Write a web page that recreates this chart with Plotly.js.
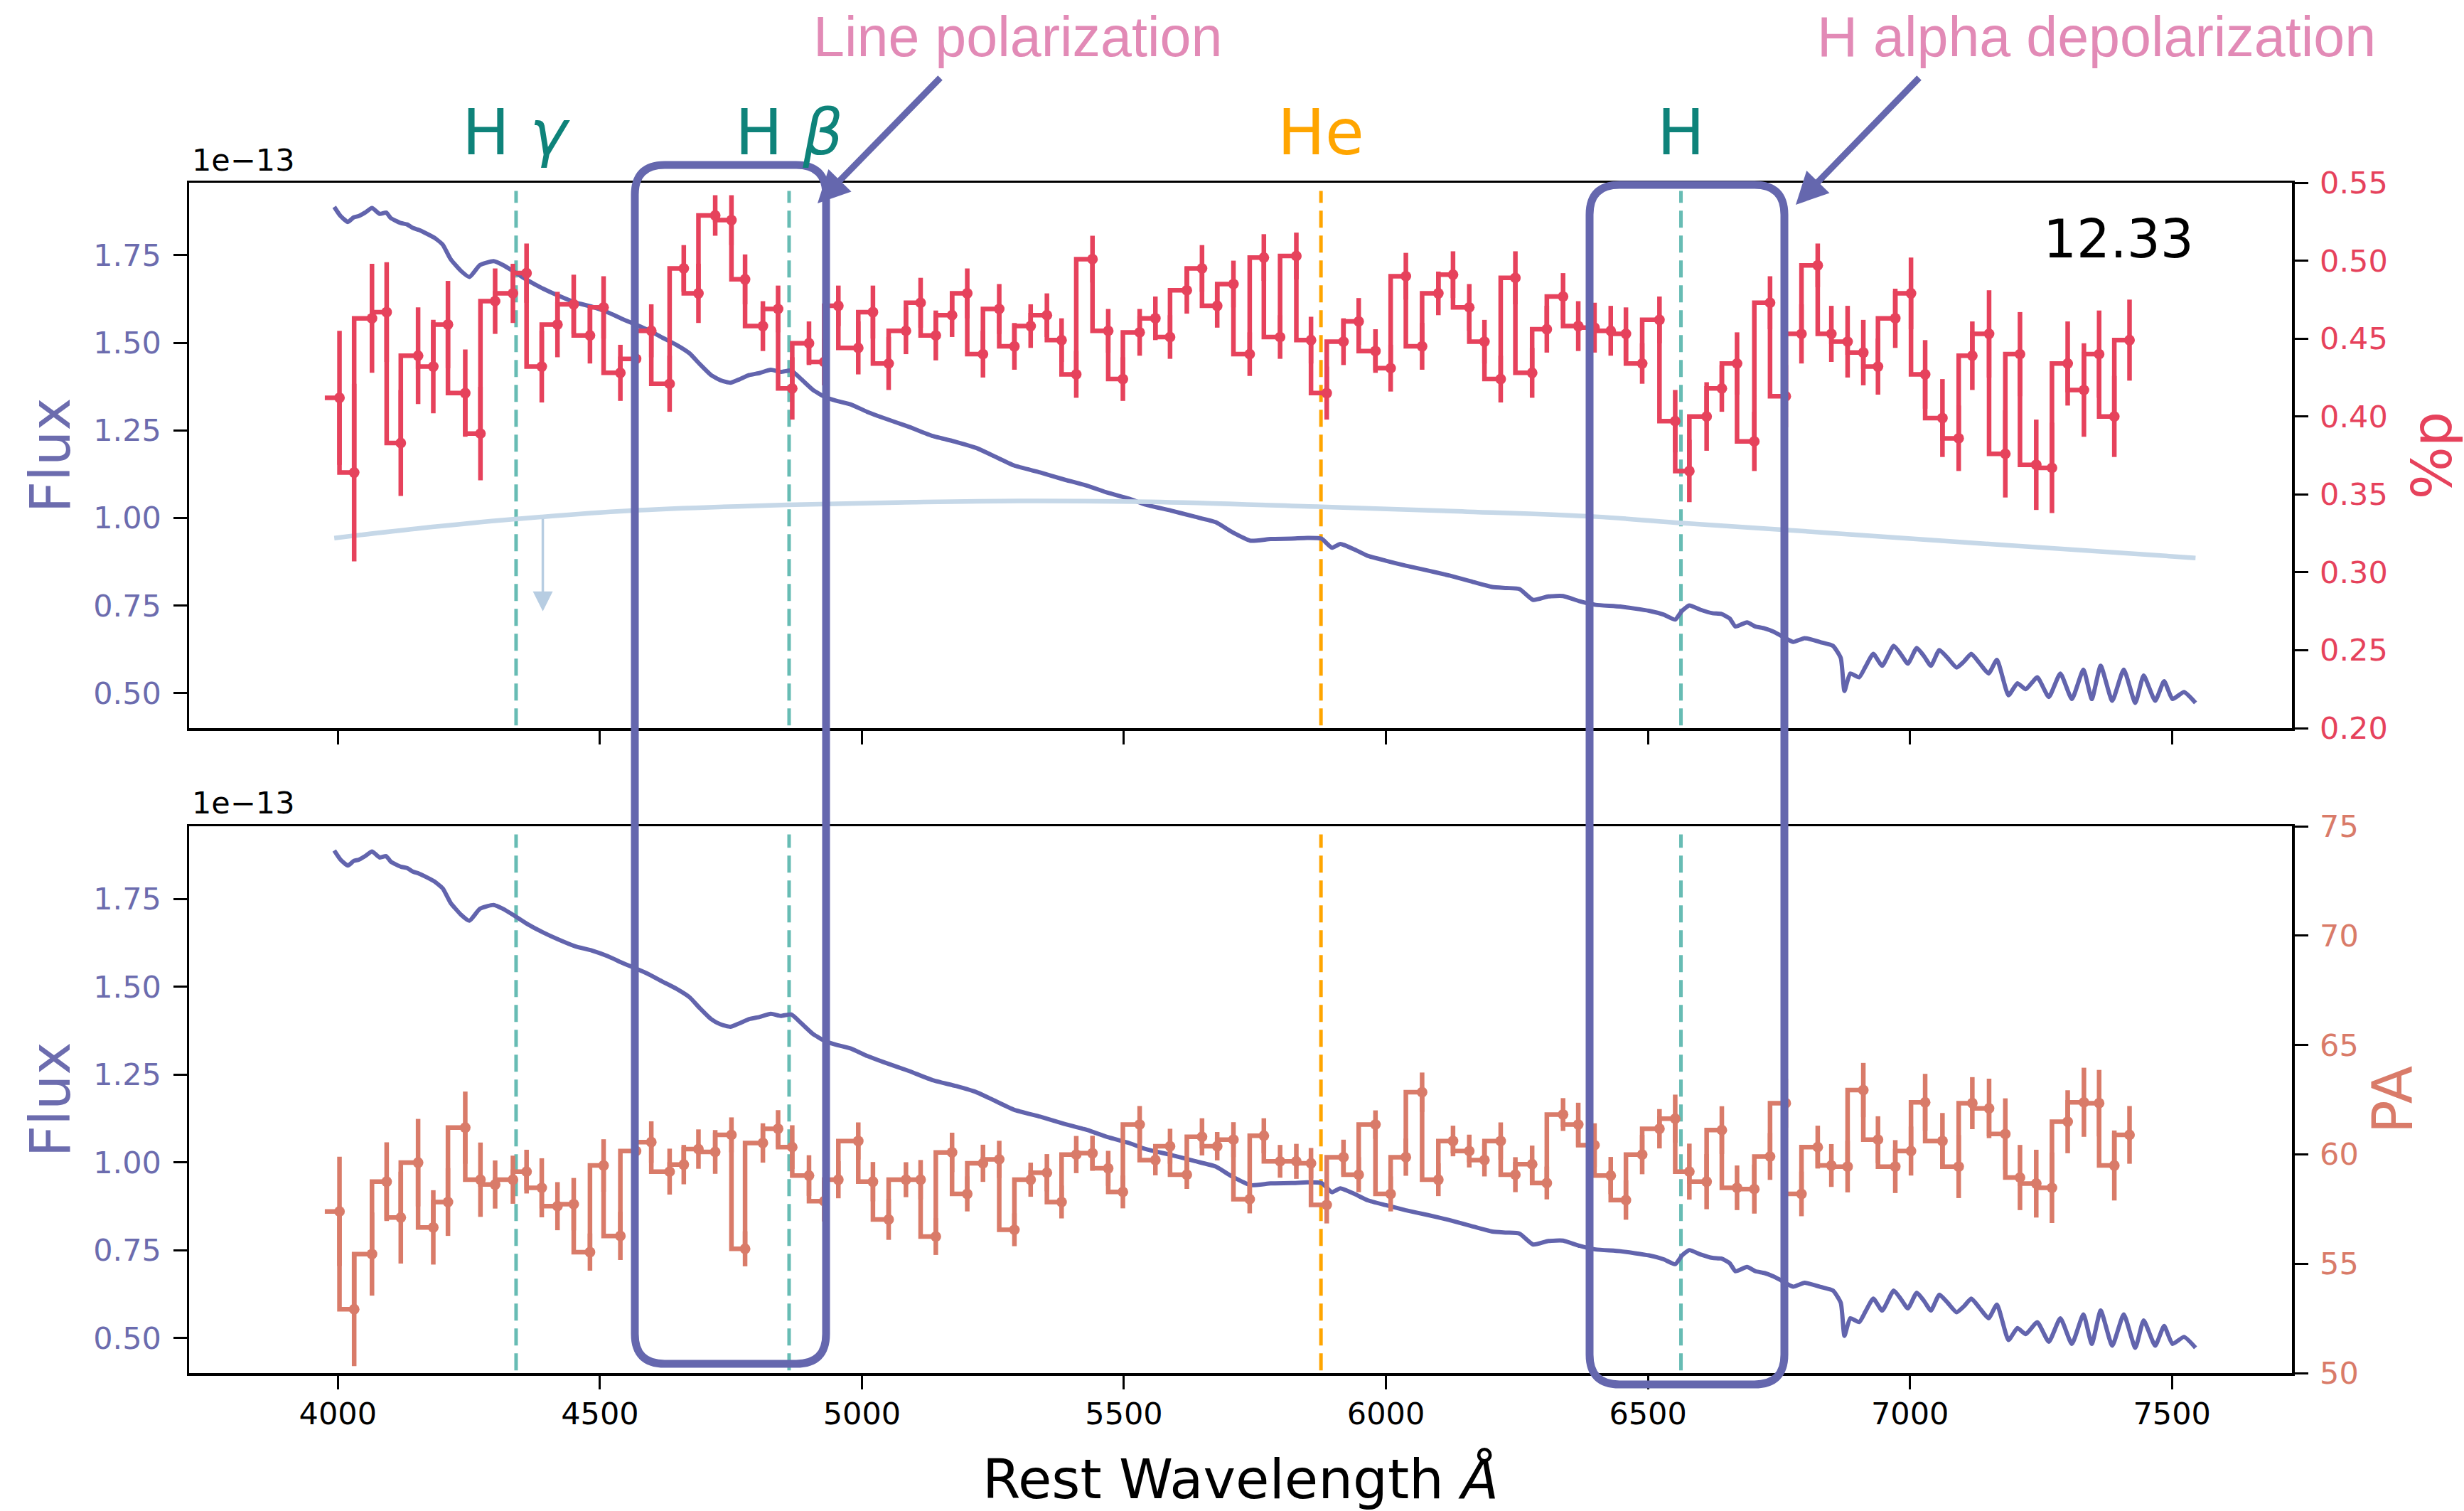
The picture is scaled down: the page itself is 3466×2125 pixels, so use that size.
<!DOCTYPE html>
<html>
<head>
<meta charset="utf-8">
<script src="https://cdn.plot.ly/plotly-3.0.1.min.js"></script>
<style>html,body{margin:0;padding:0;background:#fff;}</style>
</head>
<body>
<div id="chart" style="width:3466px;height:2125px;"></div>
<script>
// ---------------- DATA ----------------
// Flux spectrum (units of 1e-13)
const fluxWave = [3993, 4005, 4019, 4030, 4040, 4052, 4065, 4080, 4092, 4101, 4120, 4132, 4143, 4155, 4165, 4184, 4200, 4215, 4235, 4251, 4271, 4297, 4315, 4334, 4360, 4391, 4420, 4453, 4485, 4515, 4540, 4557, 4590, 4619, 4645, 4671, 4690, 4712, 4730, 4749, 4765, 4785, 4805, 4826, 4845, 4865, 4885, 4907, 4930, 4950, 4979, 5010, 5042, 5090, 5135, 5180, 5218, 5250, 5290, 5340, 5383, 5430, 5469, 5510, 5541, 5590, 5634, 5675, 5706, 5742, 5780, 5820, 5850, 5877, 5897, 5913, 5940, 5965, 6000, 6037, 6080, 6120, 6160, 6203, 6230, 6255, 6281, 6310, 6338, 6370, 6400, 6447, 6502, 6530, 6552, 6565, 6579, 6600, 6623, 6640, 6656, 6667, 6689, 6705, 6722, 6740, 6755, 6777, 6799, 6830, 6853, 6868, 6875, 6886, 6903, 6915, 6930, 6947, 6969, 6983, 6996, 7013, 7027, 7040, 7056, 7072, 7089, 7103, 7117, 7133, 7150, 7166, 7188, 7205, 7221, 7243, 7265, 7287, 7309, 7331, 7347, 7364, 7386, 7408, 7430, 7446, 7468, 7485, 7501, 7523, 7545];
const fluxVal  = [1.888, 1.862, 1.845, 1.858, 1.862, 1.872, 1.885, 1.868, 1.872, 1.856, 1.842, 1.838, 1.828, 1.822, 1.815, 1.800, 1.780, 1.739, 1.705, 1.688, 1.722, 1.733, 1.722, 1.705, 1.680, 1.655, 1.635, 1.615, 1.603, 1.587, 1.570, 1.559, 1.538, 1.515, 1.495, 1.470, 1.440, 1.408, 1.393, 1.386, 1.395, 1.408, 1.414, 1.423, 1.417, 1.421, 1.395, 1.365, 1.345, 1.335, 1.324, 1.303, 1.285, 1.260, 1.234, 1.217, 1.200, 1.178, 1.150, 1.130, 1.111, 1.092, 1.072, 1.055, 1.038, 1.021, 1.004, 0.988, 0.960, 0.935, 0.940, 0.941, 0.943, 0.941, 0.915, 0.926, 0.910, 0.892, 0.878, 0.864, 0.850, 0.836, 0.820, 0.803, 0.800, 0.797, 0.766, 0.776, 0.777, 0.762, 0.752, 0.747, 0.735, 0.724, 0.710, 0.735, 0.750, 0.738, 0.728, 0.726, 0.713, 0.690, 0.702, 0.690, 0.685, 0.675, 0.663, 0.646, 0.657, 0.645, 0.635, 0.600, 0.506, 0.556, 0.545, 0.575, 0.612, 0.578, 0.635, 0.610, 0.584, 0.629, 0.605, 0.578, 0.623, 0.600, 0.573, 0.590, 0.612, 0.585, 0.556, 0.595, 0.494, 0.528, 0.511, 0.545, 0.489, 0.556, 0.483, 0.567, 0.483, 0.578, 0.478, 0.567, 0.472, 0.550, 0.478, 0.534, 0.483, 0.503, 0.472];

// Binned polarimetry: bin centres (rest wavelength, Angstrom)
const binWave = [4003, 4031, 4065, 4093, 4120, 4153, 4182, 4210, 4243, 4272, 4300, 4334, 4360, 4389, 4419, 4450, 4481, 4507, 4539, 4569, 4598, 4633, 4660, 4688, 4720, 4751, 4777, 4811, 4840, 4867, 4899, 4928, 4955,
  4993, 5021, 5051, 5084, 5112, 5141, 5172, 5201, 5231, 5262, 5291, 5322, 5353, 5381, 5409, 5440, 5470, 5498, 5530, 5560, 5588, 5620, 5649, 5678, 5709, 5740, 5767, 5798, 5829, 5857, 5887, 5919, 5948, 5980, 6009, 6038, 6069, 6100, 6128, 6159, 6188, 6219, 6247, 6279, 6307, 6338, 6367, 6398, 6429, 6458,
  6489, 6522, 6552, 6579, 6612, 6641, 6670, 6703, 6733, 6763, 6793, 6824, 6850, 6881, 6911, 6939, 6972, 7002, 7029, 7062, 7093, 7119, 7151, 7182, 7210, 7241, 7271, 7301, 7332, 7361, 7390, 7419];

// Polarization degree (%p)
const polP = [0.412, 0.364, 0.463, 0.467, 0.383, 0.439, 0.432, 0.459, 0.415, 0.389, 0.474, 0.479, 0.492, 0.432, 0.459, 0.472, 0.452, 0.470, 0.428, 0.437, 0.455, 0.421, 0.495, 0.479, 0.529, 0.526, 0.488, 0.458, 0.469, 0.418, 0.447, 0.435, 0.471,
  0.444, 0.467, 0.434, 0.455, 0.473, 0.452, 0.465, 0.479, 0.440, 0.469, 0.445, 0.458, 0.465, 0.449, 0.427, 0.501, 0.455, 0.424, 0.454, 0.463, 0.451, 0.481, 0.495, 0.471, 0.485, 0.440, 0.502, 0.451, 0.503, 0.449, 0.415, 0.448, 0.461, 0.442, 0.431, 0.490, 0.445, 0.479, 0.491, 0.470, 0.448, 0.424, 0.489, 0.428, 0.456, 0.477, 0.458, 0.457, 0.455, 0.453,
  0.434, 0.462, 0.397, 0.365, 0.400, 0.418, 0.434, 0.384, 0.473, 0.413, 0.453, 0.497, 0.453, 0.448, 0.441, 0.432, 0.463, 0.479, 0.427, 0.399, 0.386, 0.439, 0.453, 0.376, 0.440, 0.369, 0.367, 0.434, 0.417, 0.440, 0.400, 0.449];
const polErr = [0.043, 0.057, 0.035, 0.032, 0.034, 0.031, 0.030, 0.028, 0.028, 0.030, 0.021, 0.019, 0.019, 0.023, 0.021, 0.019, 0.018, 0.020, 0.018, 0.021, 0.017, 0.018, 0.015, 0.019, 0.013, 0.016, 0.016, 0.016, 0.015, 0.020, 0.014, 0.015, 0.013,
  0.017, 0.017, 0.017, 0.015, 0.016, 0.016, 0.014, 0.016, 0.015, 0.016, 0.015, 0.014, 0.014, 0.014, 0.015, 0.015, 0.014, 0.014, 0.015, 0.014, 0.014, 0.015, 0.015, 0.014, 0.015, 0.014, 0.015, 0.014, 0.015, 0.015, 0.017, 0.015, 0.015, 0.014, 0.015, 0.015, 0.015, 0.014, 0.015, 0.015, 0.014, 0.015, 0.017, 0.016, 0.015, 0.015, 0.016, 0.016, 0.016, 0.017,
  0.013, 0.015, 0.020, 0.020, 0.022, 0.015, 0.020, 0.019, 0.017, 0.020, 0.019, 0.014, 0.018, 0.023, 0.021, 0.018, 0.019, 0.023, 0.022, 0.025, 0.021, 0.022, 0.028, 0.028, 0.027, 0.029, 0.029, 0.027, 0.030, 0.028, 0.026, 0.026];

// Position angle (PA, degrees)
const paVal = [57.39, 52.92, 55.44, 58.75, 57.11, 59.62, 56.66, 57.82, 61.22, 58.84, 58.62, 58.84, 59.21, 58.47, 57.63, 57.72, 55.53, 59.49, 56.27, 60.15, 60.56, 59.21, 59.53, 60.24, 60.11, 60.89, 55.68, 60.52, 61.17, 60.33, 59.03, 57.86, 58.84,
  60.61, 58.75, 57.02, 58.84, 58.84, 56.24, 60.09, 58.19, 59.59, 59.77, 56.55, 58.84, 59.16, 57.82, 59.99, 60.05, 59.36, 58.28, 61.36, 59.74, 60.37, 59.07, 60.80, 60.37, 60.67, 57.95, 60.85, 59.68, 59.68, 59.59, 57.69, 59.87, 59.07, 61.36, 58.19, 59.87, 62.84, 58.84, 60.61, 60.15, 59.74, 60.61, 59.07, 59.55, 58.69, 61.82, 61.36, 60.42, 59.03, 57.91,
  59.99, 61.17, 61.63, 59.21, 58.75, 61.11, 58.47, 58.41, 59.90, 62.34, 58.19, 60.33, 59.49, 59.44, 62.94, 60.67, 59.44, 60.15, 62.38, 60.61, 59.44, 62.34, 62.10, 60.93, 58.94, 58.66, 58.47, 61.49, 62.38, 62.34, 59.49, 60.89];
const paErr = [2.5, 2.6, 1.9, 1.8, 2.1, 2.0, 1.7, 1.55, 1.65, 1.7, 1.1, 1.1, 1.0, 1.35, 1.1, 1.2, 0.85, 1.2, 1.1, 1.1, 0.95, 1.05, 0.9, 0.9, 1.0, 0.8, 0.8, 0.9, 0.85, 1.0, 0.93, 0.93, 0.85,
  0.85, 0.9, 0.93, 0.8, 0.9, 0.84, 0.9, 0.8, 0.85, 0.85, 0.75, 0.78, 0.85, 0.75, 0.85, 0.8, 0.8, 0.75, 0.85, 0.7, 0.8, 0.65, 0.85, 0.65, 0.8, 0.65, 0.8, 0.75, 0.8, 0.7, 0.85, 0.8, 0.8, 0.65, 0.8, 0.85, 0.9, 0.75, 0.7, 0.75, 0.75, 0.85, 0.8, 0.85, 0.75, 0.75, 1.0, 1.0, 0.85, 0.9,
  0.9, 0.9, 1.1, 1.28, 1.26, 1.09, 1.02, 1.12, 1.07, 1.12, 1.02, 0.98, 0.98, 1.18, 1.24, 1.07, 1.21, 1.12, 1.3, 1.28, 1.44, 1.19, 1.36, 1.63, 1.49, 1.55, 1.61, 1.44, 1.58, 1.52, 1.6, 1.32];

// Interstellar polarization curve (%p)
const ispWave = [3993, 4150, 4334, 4557, 4857, 5100, 5300, 5550, 5877, 6150, 6400, 6552, 6777, 7100, 7545];
const ispP    = [0.322, 0.328, 0.334, 0.3395, 0.3433, 0.345, 0.3458, 0.3452, 0.342, 0.339, 0.3357, 0.3319, 0.3269, 0.3193, 0.3092];
// Upper limit marker
const ulimWave = [4391];
const ulimP = [0.335];
const ulimLow = [0.275];

// Spectral lines
const lineWave  = [4340, 4861, 5876, 6563];
const lineLabel = ['H <i>γ</i>', 'H <i>β</i>', 'He', 'H'];
const lineKind  = ['H', 'H', 'He', 'H'];

const xTicks = [4000, 4500, 5000, 5500, 6000, 6500, 7000, 7500];
const fluxTicks = [0.50, 0.75, 1.00, 1.25, 1.50, 1.75];
const polTicks = [0.20, 0.25, 0.30, 0.35, 0.40, 0.45, 0.50, 0.55];
const paTicks = [50, 55, 60, 65, 70, 75];

// ---------------- STYLE ----------------
const C_FLUX = '#6264ad', C_FLUXTXT = '#6c6cae';
const C_POL = '#e6425c', C_PA = '#d97b69';
const C_TEAL = '#67bcb4', C_TEALTXT = '#0e837a', C_ORANGE = '#ffa500';
const C_ISP = '#c6d8e8', C_HAND = '#6567ae', C_PINK = '#e28ab6';
const FONT = 'DejaVu Sans';

// geometry (pixels)
const L = 266, R = 3224, T = 257, B = 1931;
const W = R - L, H = B - T;
const px = x => (x - L) / W;
const py = y => (B - y) / H;

function stepX(xs) { return [xs[0] - (xs[1] - xs[0])].concat(xs); }
function stepY(ys) { return [ys[0]].concat(ys); }

const traces = [
  // top panel
  {x: fluxWave, y: fluxVal, xaxis: 'x2', yaxis: 'y3', mode: 'lines', line: {color: C_FLUX, width: 6, shape: 'spline', smoothing: 0.5}},
  {x: ispWave, y: ispP, xaxis: 'x2', yaxis: 'y4', mode: 'lines', line: {color: C_ISP, width: 6.5, shape: 'spline'}},
  {x: stepX(binWave), y: stepY(polP), xaxis: 'x2', yaxis: 'y4', mode: 'lines', line: {color: C_POL, width: 6.5, shape: 'vh'}},
  {x: binWave, y: polP, xaxis: 'x2', yaxis: 'y4', mode: 'markers', marker: {color: C_POL, size: 15},
   error_y: {type: 'data', array: polErr, color: C_POL, thickness: 6.5, width: 0}},
  // bottom panel
  {x: fluxWave, y: fluxVal, xaxis: 'x', yaxis: 'y', mode: 'lines', line: {color: C_FLUX, width: 6, shape: 'spline', smoothing: 0.5}},
  {x: stepX(binWave), y: stepY(paVal), xaxis: 'x', yaxis: 'y2', mode: 'lines', line: {color: C_PA, width: 6.5, shape: 'vh'}},
  {x: binWave, y: paVal, xaxis: 'x', yaxis: 'y2', mode: 'markers', marker: {color: C_PA, size: 15},
   error_y: {type: 'data', array: paErr, color: C_PA, thickness: 6.5, width: 0}}
];

const axCommon = {
  showgrid: false, zeroline: false, showline: true, linecolor: '#000', linewidth: 3.5,
  ticks: 'outside', ticklen: 19, tickwidth: 3, tickcolor: '#000', automargin: false
};

const shapes = [];
lineWave.forEach((w, i) => {
  const col = lineKind[i] === 'He' ? C_ORANGE : C_TEAL;
  ['x2|y3 domain', 'x|y domain'].forEach(r => {
    const [xr, yr] = r.split('|');
    shapes.push({type: 'line', xref: xr, yref: yr, x0: w, x1: w, y0: 0.005, y1: 0.985,
      line: {color: col, width: 5, dash: '24px,11px'}, layer: 'below'});
  });
});
function roundRect(x0, y0, x1, y1, r) {
  const P = (a, b) => px(a) + ',' + py(b);
  return 'M' + P(x0 + r, y0) + ' L' + P(x1 - r, y0) + ' Q' + P(x1, y0) + ' ' + P(x1, y0 + r) +
    ' L' + P(x1, y1 - r) + ' Q' + P(x1, y1) + ' ' + P(x1 - r, y1) +
    ' L' + P(x0 + r, y1) + ' Q' + P(x0, y1) + ' ' + P(x0, y1 - r) +
    ' L' + P(x0, y0 + r) + ' Q' + P(x0, y0) + ' ' + P(x0 + r, y0) + ' Z';
}
shapes.push({type: 'path', xref: 'paper', yref: 'paper', path: roundRect(893, 232, 1162, 1918, 42), line: {color: C_HAND, width: 11}, layer: 'above'});
shapes.push({type: 'path', xref: 'paper', yref: 'paper', path: roundRect(2236, 260, 2510, 1947, 42), line: {color: C_HAND, width: 11}, layer: 'above'});

const annotations = [];
lineWave.forEach((w, i) => {
  annotations.push({xref: 'x2', yref: 'paper', x: w, y: py(186), text: lineLabel[i], showarrow: false,
    xanchor: 'center', yanchor: 'middle',
    font: {family: FONT, size: 89, color: lineKind[i] === 'He' ? C_ORANGE : C_TEALTXT}});
});
annotations.push({xref: 'paper', yref: 'paper', x: px(268), y: py(225), text: '1e\u221213', showarrow: false,
  xanchor: 'left', yanchor: 'middle', font: {family: FONT, size: 43, color: '#000'}});
annotations.push({xref: 'paper', yref: 'paper', x: px(268), y: py(1129), text: '1e\u221213', showarrow: false,
  xanchor: 'left', yanchor: 'middle', font: {family: FONT, size: 43, color: '#000'}});
annotations.push({xref: 'paper', yref: 'paper', x: px(2980), y: py(336), text: '12.33', showarrow: false,
  xanchor: 'center', yanchor: 'middle', font: {family: FONT, size: 74, color: '#000'}});
annotations.push({xref: 'paper', yref: 'paper', x: px(1431), y: py(52), text: 'Line polarization', showarrow: false,
  xanchor: 'center', yanchor: 'middle', font: {family: 'Liberation Sans', size: 79, color: C_PINK}});
annotations.push({xref: 'paper', yref: 'paper', x: px(2949), y: py(52), text: 'H alpha depolarization', showarrow: false,
  xanchor: 'center', yanchor: 'middle', font: {family: 'Liberation Sans', size: 79, color: C_PINK}});
// hand-drawn arrows
annotations.push({xref: 'paper', yref: 'paper', x: px(1150), y: py(286), ax: 174, ay: -178, text: '', showarrow: true,
  arrowhead: 2, arrowsize: 1.0, arrowwidth: 9, arrowcolor: C_HAND});
annotations.push({xref: 'paper', yref: 'paper', x: px(2526), y: py(288), ax: 175, ay: -180, text: '', showarrow: true,
  arrowhead: 2, arrowsize: 1.0, arrowwidth: 9, arrowcolor: C_HAND});
// upper-limit arrow on the ISP curve
ulimWave.forEach((w, i) => {
  annotations.push({xref: 'x2', yref: 'y4', axref: 'x2', ayref: 'y4', x: w, y: ulimLow[i], ax: w, ay: ulimP[i],
    text: '', showarrow: true, arrowhead: 2, arrowsize: 1.6, arrowwidth: 3.5, arrowcolor: '#b7cde2'});
});

const layout = {
  width: 3466, height: 2125,
  margin: {l: L, r: 3466 - R, t: T, b: 2125 - B, pad: 0},
  paper_bgcolor: '#fff', plot_bgcolor: '#fff', showlegend: false,
  font: {family: FONT, size: 43, color: '#000'},
  xaxis: Object.assign({}, axCommon, {domain: [0, 1], anchor: 'y', range: [3716, 7729], tickvals: xTicks, mirror: true,
    tickfont: {family: FONT, size: 43, color: '#000'}, ticklabelstandoff: -2,
    title: {text: 'Rest Wavelength <i>Å</i>', font: {family: FONT, size: 77, color: '#000'}, standoff: 46}}),
  xaxis2: Object.assign({}, axCommon, {domain: [0, 1], anchor: 'y3', range: [3716, 7729], matches: 'x', tickvals: xTicks,
    showticklabels: false, mirror: true}),
  yaxis: Object.assign({}, axCommon, {domain: [0, (B - 1162) / H], anchor: 'x', range: [0.40, 1.957], tickvals: fluxTicks,
    tickformat: '.2f', tickfont: {family: FONT, size: 43, color: C_FLUXTXT}, ticklabelstandoff: 8,
    title: {text: 'Flux', font: {family: FONT, size: 78, color: C_FLUXTXT}, standoff: 8}}),
  yaxis2: Object.assign({}, axCommon, {overlaying: 'y', side: 'right', anchor: 'x', range: [50, 75], tickvals: paTicks,
    tickfont: {family: FONT, size: 43, color: C_PA}, ticklabelstandoff: 8,
    title: {text: 'PA', font: {family: FONT, size: 78, color: C_PA}, standoff: 22}}),
  yaxis3: Object.assign({}, axCommon, {domain: [(B - 1024) / H, 1], anchor: 'x2', range: [0.40, 1.957], tickvals: fluxTicks,
    tickformat: '.2f', tickfont: {family: FONT, size: 43, color: C_FLUXTXT}, ticklabelstandoff: 8,
    title: {text: 'Flux', font: {family: FONT, size: 78, color: C_FLUXTXT}, standoff: 8}}),
  yaxis4: Object.assign({}, axCommon, {overlaying: 'y3', side: 'right', anchor: 'x2', range: [0.20, 0.55], tickvals: polTicks,
    tickformat: '.2f', tickfont: {family: FONT, size: 43, color: C_POL}, ticklabelstandoff: 8,
    title: {text: '%p', font: {family: FONT, size: 78, color: C_POL}, standoff: 42}}),
  shapes: shapes,
  annotations: annotations
};

Plotly.newPlot('chart', traces, layout, {staticPlot: true, displayModeBar: false});
</script>
</body>
</html>
